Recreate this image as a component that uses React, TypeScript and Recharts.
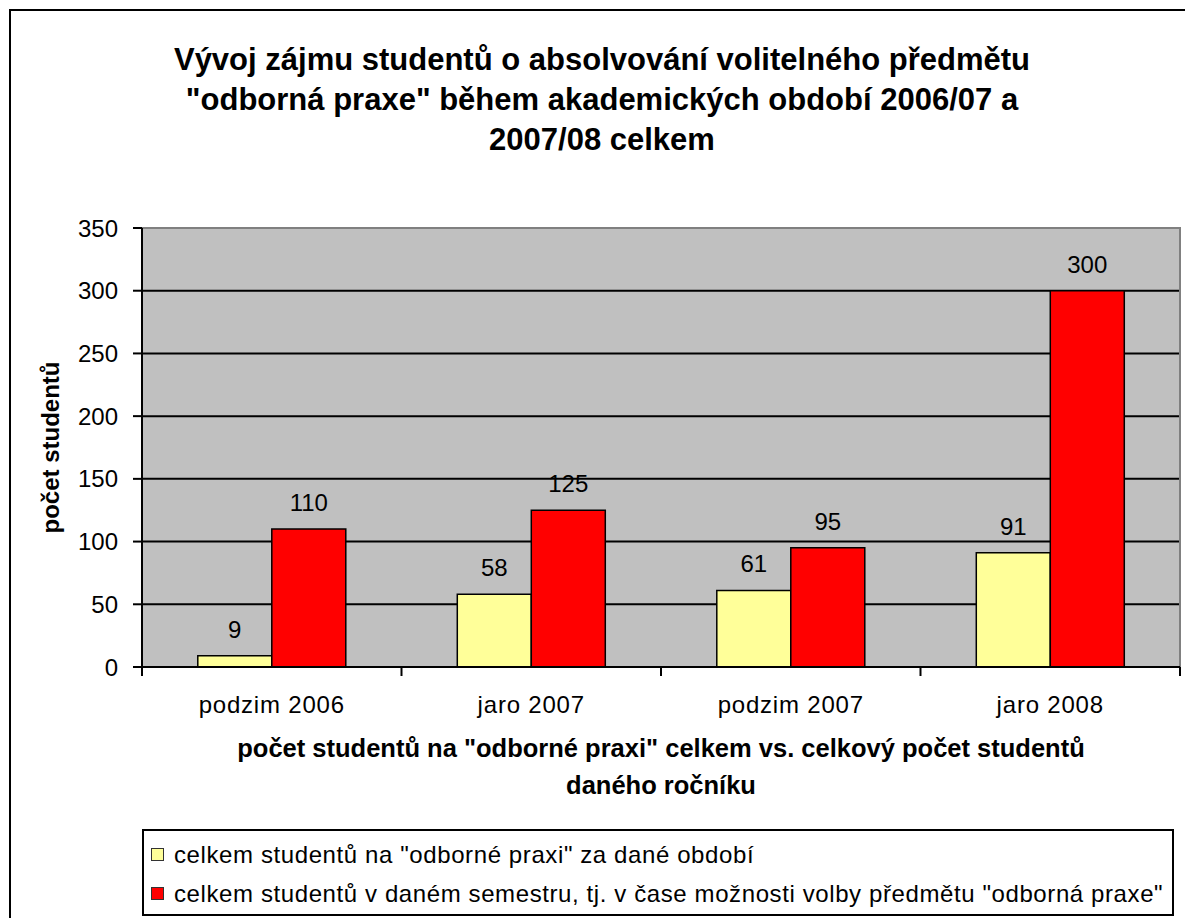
import React from "react";
import {
  BarChart,
  Bar,
  XAxis,
  YAxis,
  CartesianGrid,
  ReferenceArea,
  LabelList,
  Legend,
} from "recharts";

const CATEGORIES = ["podzim 2006", "jaro 2007", "podzim 2007", "jaro 2008"];
const NA_PRAXI = [9, 58, 61, 91];
const V_SEMESTRU = [110, 125, 95, 300];
const Y_TICKS = [0, 50, 100, 150, 200, 250, 300, 350];

const SERIES_NAMES = [
  'celkem studentů na "odborné praxi" za dané období',
  'celkem studentů v daném semestru, tj. v čase možnosti volby předmětu "odborná praxe"',
];
const SERIES_COLORS = ["#FFFF99", "#FF0000"];

const TITLE_LINES = [
  "Vývoj zájmu studentů o absolvování volitelného předmětu",
  '"odborná praxe" během akademických období 2006/07 a',
  "2007/08 celkem",
];
const X_TITLE_LINES = [
  'počet studentů na "odborné praxi" celkem vs. celkový počet studentů',
  "daného ročníku",
];

const FONT = '"Liberation Sans", Arial, sans-serif';
const TICK_SIZE = 9;
const TICK_MARGIN = 20;

const data = CATEGORIES.map((name, i) => ({
  name,
  praxe: NA_PRAXI[i],
  semestr: V_SEMESTRU[i],
}));

// category label in the middle, tick marks on the band edges (Excel style)
function CategoryTick(props: any) {
  const { x, y, payload, index, visibleTicksCount } = props;
  const half = payload?.offset ?? 0;
  const top = y - TICK_SIZE - TICK_MARGIN;
  return (
    <g>
      <line x1={x - half} x2={x - half} y1={top} y2={top + TICK_SIZE} stroke="#000" strokeWidth={2} />
      {index === visibleTicksCount - 1 && (
        <line x1={x + half} x2={x + half} y1={top} y2={top + TICK_SIZE} stroke="#000" strokeWidth={2} />
      )}
      <text x={x} y={y} dy="0.71em" textAnchor="middle" fontSize={24} letterSpacing={0.8} fill="#000" fontFamily={FONT}>
        {payload.value}
      </text>
    </g>
  );
}

function XTitle(props: any) {
  const vb = props.viewBox || {};
  const cx = vb.x + vb.width / 2;
  return (
    <text x={cx} y={vb.y + 90} textAnchor="middle" fontSize={25.5} fontWeight="bold" fill="#000" fontFamily={FONT}>
      <tspan x={cx}>{X_TITLE_LINES[0]}</tspan>
      <tspan x={cx} dy={37}>
        {X_TITLE_LINES[1]}
      </tspan>
    </text>
  );
}

function LegendBox() {
  return (
    <div
      style={{
        boxSizing: "border-box",
        width: 1032,
        height: 87,
        border: "2px solid #000",
        background: "#fff",
        padding: "4px 0 0 7px",
        fontFamily: FONT,
        fontSize: 24,
        letterSpacing: 0.6,
        color: "#000",
      }}
    >
      {SERIES_NAMES.map((n, i) => (
        <div key={n} style={{ height: 39, lineHeight: "39px", whiteSpace: "nowrap", display: "flex", alignItems: "center" }}>
          <span
            style={{
              display: "inline-block",
              width: 11,
              height: 11,
              border: "1px solid #333",
              background: SERIES_COLORS[i],
              marginRight: 10,
            }}
          />
          <span>{n}</span>
        </div>
      ))}
    </div>
  );
}

export default function App() {
  return (
    <div
      style={{
        position: "fixed",
        left: 0,
        top: 0,
        width: 1185,
        height: 918,
        overflow: "hidden",
        background: "#fff",
        fontFamily: FONT,
      }}
    >
      {/* outer chart frame: only left and top edges fall inside the picture */}
      <div
        style={{
          position: "absolute",
          left: 9,
          top: 9,
          width: 1176,
          height: 909,
          borderLeft: "2px solid #000",
          borderTop: "2px solid #000",
        }}
      />
      <div style={{ position: "absolute", left: 0, top: 0 }}>
        <BarChart
          width={1185}
          height={918}
          data={data}
          margin={{ top: 228, right: 5, left: 0, bottom: 121 }}
          barCategoryGap="21.5%"
          barGap={0}
        >
          <CartesianGrid vertical={false} stroke="#000" strokeWidth={2} fill="#C0C0C0" fillOpacity={1} />
          <ReferenceArea y1={0} y2={350} fill="none" stroke="#808080" strokeWidth={2} />
          <Bar dataKey="praxe" name={SERIES_NAMES[0]} fill={SERIES_COLORS[0]} stroke="#000" strokeWidth={1.5} isAnimationActive={false}>
            <LabelList dataKey="praxe" position="top" offset={18} fontSize={24} fill="#000" fontFamily={FONT} />
          </Bar>
          <Bar dataKey="semestr" name={SERIES_NAMES[1]} fill={SERIES_COLORS[1]} stroke="#000" strokeWidth={1.5} isAnimationActive={false}>
            <LabelList dataKey="semestr" position="top" offset={18} fontSize={24} fill="#000" fontFamily={FONT} />
          </Bar>
          <XAxis
            dataKey="name"
            height={130}
            tickLine={false}
            tickSize={TICK_SIZE}
            tickMargin={TICK_MARGIN}
            axisLine={{ stroke: "#000", strokeWidth: 2 }}
            tick={<CategoryTick />}
            interval={0}
            label={<XTitle />}
          />
          <YAxis
            width={142}
            domain={[0, 350]}
            ticks={Y_TICKS}
            interval={0}
            tickSize={TICK_SIZE}
            tickMargin={15}
            axisLine={{ stroke: "#000", strokeWidth: 2 }}
            tickLine={{ stroke: "#000", strokeWidth: 2 }}
            tick={{ fontSize: 24, fill: "#000", fontFamily: FONT }}
            label={{
              value: "počet studentů",
              angle: -90,
              position: "insideLeft",
              offset: 50,
              style: { textAnchor: "middle", fontSize: 24, fontWeight: "bold", fill: "#000", fontFamily: FONT },
            }}
          />
          <Legend
            layout="vertical"
            align="center"
            verticalAlign="middle"
            wrapperStyle={{ left: 142, top: 829, width: 1032, height: 87 }}
            content={() => <LegendBox />}
          />
        </BarChart>
      </div>
      <div
        style={{
          position: "absolute",
          left: 19,
          top: 40,
          width: 1166,
          textAlign: "center",
          fontSize: 31,
          fontWeight: "bold",
          lineHeight: "40px",
          color: "#000",
        }}
      >
        {TITLE_LINES.map((l) => (
          <div key={l}>{l}</div>
        ))}
      </div>
    </div>
  );
}
